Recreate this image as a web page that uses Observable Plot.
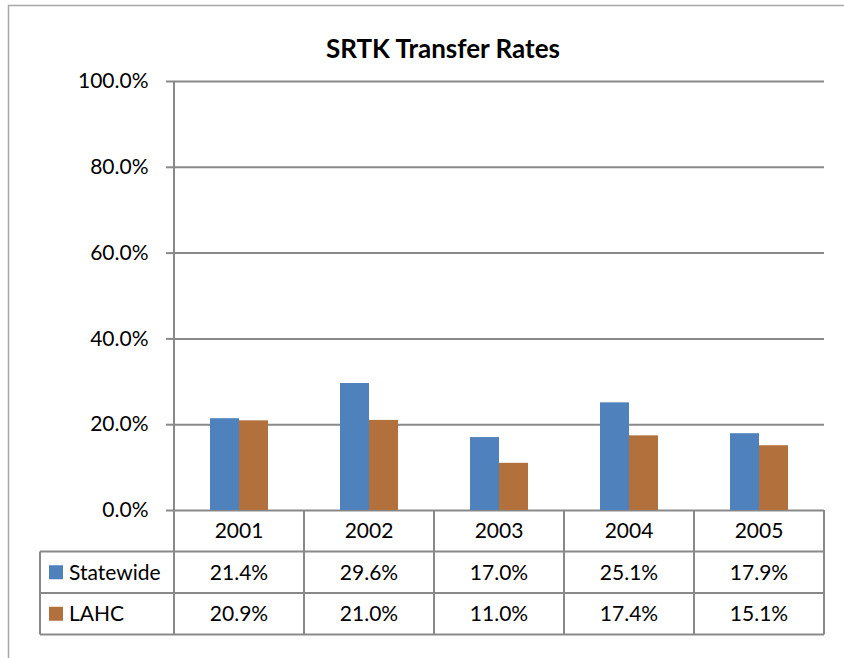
<!DOCTYPE html>
<html>
<head>
<meta charset="utf-8">
<script src="https://cdn.jsdelivr.net/npm/d3@7"></script>
<script src="https://cdn.jsdelivr.net/npm/@observablehq/plot@0.6"></script>
<style>
  body { margin: 0; background: #fff; }
  #chart { width: 844px; height: 658px; }
</style>
</head>
<body>
<div id="chart"></div>
<script>
// ---- data ----
const title = "SRTK Transfer Rates";
const years = ["2001", "2002", "2003", "2004", "2005"];
const series = ["Statewide", "LAHC"];
const statewide = [21.4, 29.6, 17.0, 25.1, 17.9];
const lahc = [20.9, 21.0, 11.0, 17.4, 15.1];
const yTicks = [0, 20, 40, 60, 80, 100];
const colors = ["#4F81BD", "#B1703C"];

const seriesValues = { "Statewide": statewide, "LAHC": lahc };
const data = years.flatMap((yr, i) => series.map(s => ({ year: yr, series: s, value: seriesValues[s][i] })));
const fmt = v => v.toFixed(1) + "%";

const FONT = "Lato, 'Open Sans', sans-serif";
const GRID = "#898989";
const FS = 21;

const plot = Plot.plot({
  width: 844,
  height: 658,
  marginLeft: 174,
  marginRight: 20,
  marginTop: 81,
  marginBottom: 148,
  style: { fontFamily: FONT, fontSize: FS + "px", background: "#fff", color: "#000" },
  fx: { domain: years, padding: 0, axis: null, label: null },
  x: { domain: series, paddingInner: 0, paddingOuter: 1.1667, axis: null, label: null },
  y: { domain: [0, 100], axis: null, label: null },
  color: { domain: series, range: colors },
  marks: [
    Plot.gridY(yTicks, { stroke: GRID, strokeOpacity: 1, strokeWidth: 2 }),
    Plot.barY(data, { fx: "year", x: "series", y: "value", fill: "series" }),
    Plot.axisY(yTicks, {
      tickSize: 8, tickPadding: 18, tickFormat: fmt,
      stroke: GRID, strokeWidth: 2, fill: "#000", fontSize: FS, label: null
    })
  ]
});

document.getElementById("chart").appendChild(plot);
const svgEl = plot.tagName.toLowerCase() === "svg" ? plot : plot.querySelector("svg");
const svg = d3.select(svgEl);

const fx = plot.scale("fx");
const ys = plot.scale("y");
const bw = fx.bandwidth;
const left = fx.apply(years[0]);
const right = fx.apply(years[years.length - 1]) + bw;
const y0 = ys.apply(0);
const yTop = ys.apply(100);
const rowH = 41.5;
const legendLeft = 40;

// outer chart frame
svg.append("path")
  .attr("d", `M8.5,${658} V5.5 H844`)
  .attr("fill", "none").attr("stroke", "#a8a8a8").attr("stroke-width", 1.5);

// title
svg.append("text")
  .attr("x", 443).attr("y", 58)
  .attr("text-anchor", "middle")
  .attr("font-family", FONT).attr("font-weight", "bold").attr("font-size", 26)
  .text(title);

// data table
const g = svg.append("g").attr("stroke", GRID).attr("stroke-width", 2).attr("fill", "none");
g.append("line").attr("x1", left).attr("x2", left).attr("y1", yTop).attr("y2", y0 + 3 * rowH);
years.forEach(yr => {
  const xr = fx.apply(yr) + bw;
  g.append("line").attr("x1", xr).attr("x2", xr).attr("y1", y0).attr("y2", y0 + 3 * rowH);
});
g.append("line").attr("x1", legendLeft).attr("x2", legendLeft).attr("y1", y0 + rowH).attr("y2", y0 + 3 * rowH);
for (let r = 1; r <= 3; r++) {
  g.append("line").attr("x1", legendLeft).attr("x2", right).attr("y1", y0 + r * rowH).attr("y2", y0 + r * rowH);
}

const t = svg.append("g").attr("font-family", FONT).attr("font-size", FS).attr("fill", "#000");
years.forEach(yr => {
  t.append("text")
    .attr("x", fx.apply(yr) + bw / 2).attr("y", y0 + rowH / 2)
    .attr("text-anchor", "middle").attr("dy", "0.35em")
    .text(yr);
});
const color = plot.scale("color");
series.forEach((s, r) => {
  const cy = y0 + (r + 1.5) * rowH;
  svg.append("rect")
    .attr("x", 49).attr("y", cy - 7).attr("width", 14).attr("height", 14)
    .attr("fill", color.apply(s));
  t.append("text").attr("x", 69).attr("y", cy).attr("dy", "0.35em")
    .attr("text-anchor", "start").text(s);
  years.forEach((yr, i) => {
    t.append("text")
      .attr("x", fx.apply(yr) + bw / 2).attr("y", cy)
      .attr("text-anchor", "middle").attr("dy", "0.35em")
      .text(fmt(seriesValues[s][i]));
  });
});
</script>
</body>
</html>
